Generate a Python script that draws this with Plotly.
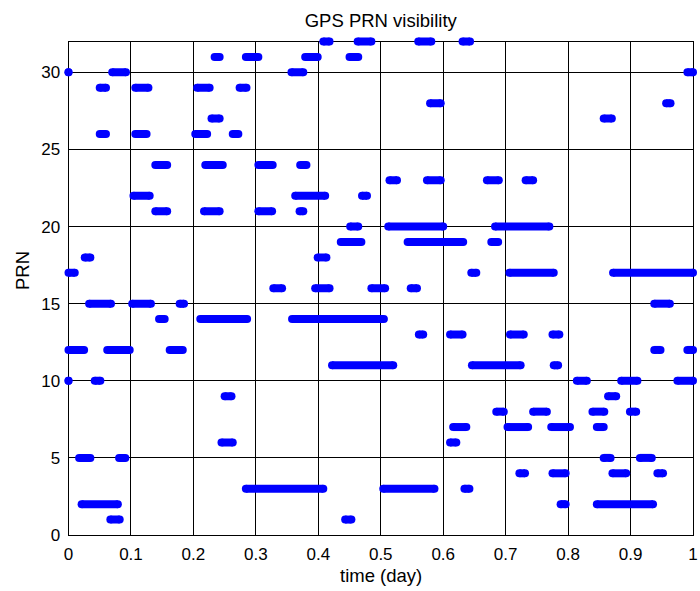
import plotly.graph_objects as go

# ---- data: visibility intervals (PRN, start day, end day) ----
prn = [32, 32, 32, 32,
       31, 31, 31, 31,
       30, 30, 30, 30,
       29, 29, 29, 29,
       28, 28,
       27, 27,
       26, 26, 26, 26,
       24, 24, 24, 24,
       23, 23, 23, 23,
       22, 22, 22,
       21, 21, 21, 21,
       20, 20, 20,
       19, 19, 19,
       18, 18,
       17, 17, 17, 17,
       16, 16, 16, 16,
       15, 15, 15, 15,
       14, 14, 14,
       13, 13, 13, 13,
       12, 12, 12, 12, 12,
       11, 11, 11,
       10, 10, 10, 10, 10,
       9, 9,
       8, 8, 8, 8,
       7, 7, 7, 7,
       6, 6,
       5, 5, 5, 5,
       4, 4, 4, 4,
       3, 3, 3,
       2, 2, 2,
       1, 1]
t_start = [0.408, 0.463, 0.560, 0.631,
           0.234, 0.284, 0.379, 0.450,
           0.000, 0.070, 0.357, 0.991,
           0.050, 0.107, 0.206, 0.274,
           0.579, 0.957,
           0.229, 0.857,
           0.050, 0.107, 0.203, 0.263,
           0.139, 0.219, 0.304, 0.371,
           0.514, 0.574, 0.670, 0.732,
           0.104, 0.363, 0.470,
           0.139, 0.217, 0.304, 0.370,
           0.451, 0.512, 0.683,
           0.436, 0.543, 0.677,
           0.026, 0.399,
           0.000, 0.645, 0.706, 0.872,
           0.328, 0.395, 0.485, 0.548,
           0.033, 0.102, 0.178, 0.938,
           0.145, 0.211, 0.358,
           0.561, 0.611, 0.707, 0.775,
           0.000, 0.062, 0.162, 0.938, 0.991,
           0.422, 0.646, 0.777,
           0.000, 0.042, 0.814, 0.885, 0.975,
           0.250, 0.864,
           0.685, 0.744, 0.839, 0.899,
           0.616, 0.703, 0.773, 0.846,
           0.245, 0.611,
           0.017, 0.081, 0.857, 0.915,
           0.722, 0.775, 0.871, 0.943,
           0.284, 0.504, 0.634,
           0.021, 0.788, 0.846,
           0.067, 0.443]
t_end = [0.418, 0.485, 0.581, 0.643,
         0.242, 0.304, 0.399, 0.464,
         0.000, 0.092, 0.376, 1.000,
         0.060, 0.128, 0.226, 0.285,
         0.596, 0.964,
         0.242, 0.870,
         0.060, 0.125, 0.222, 0.272,
         0.158, 0.247, 0.327, 0.381,
         0.526, 0.596, 0.689, 0.744,
         0.130, 0.411, 0.478,
         0.158, 0.242, 0.326, 0.376,
         0.464, 0.600, 0.770,
         0.469, 0.632, 0.688,
         0.035, 0.413,
         0.010, 0.653, 0.777, 1.000,
         0.342, 0.418, 0.507, 0.558,
         0.068, 0.132, 0.185, 0.963,
         0.154, 0.286, 0.505,
         0.568, 0.631, 0.729, 0.786,
         0.025, 0.098, 0.183, 0.948, 1.000,
         0.520, 0.724, 0.784,
         0.000, 0.051, 0.830, 0.911, 1.000,
         0.261, 0.877,
         0.697, 0.766, 0.858, 0.909,
         0.637, 0.736, 0.803, 0.857,
         0.263, 0.621,
         0.035, 0.091, 0.868, 0.934,
         0.731, 0.796, 0.893, 0.952,
         0.408, 0.586, 0.642,
         0.079, 0.796, 0.936,
         0.082, 0.453]

x_ticks = [0, 0.1, 0.2, 0.3, 0.4, 0.5, 0.6, 0.7, 0.8, 0.9, 1]
x_tick_labels = ["0", "0.1", "0.2", "0.3", "0.4", "0.5", "0.6", "0.7", "0.8", "0.9", "1"]
y_ticks = [0, 5, 10, 15, 20, 25, 30]
y_tick_labels = ["0", "5", "10", "15", "20", "25", "30"]

# ---- build segment polyline ----
xs, ys = [], []
for p, a, b in zip(prn, t_start, t_end):
    xs += [a, b, None]
    ys += [p, p, None]

# ---- layout geometry (pixels) ----
W, H = 700, 591
X0, X1 = 68.5, 693.0     # pixel of t=0 and t=1
YB, YT = 535.0, 41.5     # pixel of PRN 0 and PRN 32
PADL, PADR, PADV = 12.0, 7.0, 10.0
xpx = X1 - X0
ypx = YB - YT

font = "Liberation Sans, Arial, sans-serif"

fig = go.Figure()
# empty trace so the framed axes (ticks, grid) are drawn
fig.add_trace(go.Scatter(x=[None], y=[None], xaxis="x", yaxis="y",
                         mode="markers", showlegend=False, hoverinfo="skip"))
fig.add_trace(go.Scatter(
    x=xs, y=ys, xaxis="x2", yaxis="y2",
    mode="lines+markers",
    line=dict(color="#0000FF", width=8),
    marker=dict(color="#0000FF", size=8, line=dict(width=0)),
    connectgaps=False, cliponaxis=False, showlegend=False,
))

fig.update_layout(
    width=W, height=H,
    margin=dict(l=0, r=0, t=0, b=0, pad=0),
    paper_bgcolor="white", plot_bgcolor="rgba(0,0,0,0)",
    font=dict(family=font, size=17, color="black"),
    title=dict(text="GPS PRN visibility", x=(X0 + X1) / 2 / W, xanchor="center",
               y=1 - 20.5 / H, yanchor="middle", automargin=False,
               font=dict(family=font, size=18.5, color="black")),
    xaxis=dict(domain=[X0 / W, X1 / W], range=[0, 1], anchor="y", automargin=False,
               tickmode="array", tickvals=x_ticks, ticktext=x_tick_labels,
               showgrid=True, gridcolor="black", gridwidth=1,
               showline=True, linecolor="black", linewidth=1, mirror=True,
               zeroline=False, ticks="", ticklabelstandoff=4,
               tickfont=dict(family=font, size=17, color="black")),
    yaxis=dict(domain=[1 - YB / H, 1 - YT / H], range=[0, 32], anchor="x", automargin=False,
               tickmode="array", tickvals=y_ticks, ticktext=y_tick_labels,
               showgrid=True, gridcolor="black", gridwidth=1,
               showline=True, linecolor="black", linewidth=1, mirror=True,
               zeroline=False, ticks="", ticklabelstandoff=4,
               tickfont=dict(family=font, size=17, color="black")),
    xaxis2=dict(domain=[(X0 - PADL) / W, min(1.0, (X1 + PADR) / W)], automargin=False,
                range=[-PADL / xpx, 1 + PADR / xpx], anchor="y2", visible=False),
    yaxis2=dict(domain=[1 - (YB + PADV) / H, 1 - (YT - PADV) / H], automargin=False,
                range=[-PADV * 32 / ypx, 32 + PADV * 32 / ypx], anchor="x2", visible=False),
    annotations=[
        dict(text="time (day)", xref="paper", yref="paper",
             x=(X0 + X1) / 2 / W, y=1 - 575 / H, xanchor="center", yanchor="middle",
             showarrow=False, font=dict(family=font, size=18.5, color="black")),
        dict(text="PRN", xref="paper", yref="paper", textangle=-90,
             x=22 / W, y=1 - 271 / H, xanchor="center", yanchor="middle",
             showarrow=False, font=dict(family=font, size=18.5, color="black")),
    ],
)

fig.write_html("out.html", config={"displayModeBar": False},
               post_script="document.body.style.margin='0';")
